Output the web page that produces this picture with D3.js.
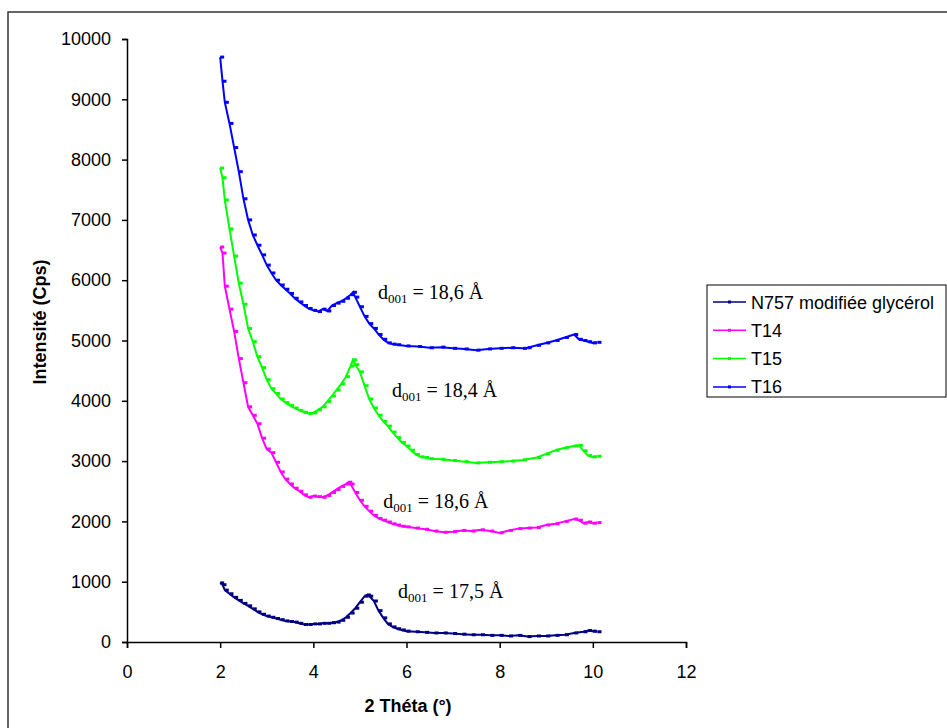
<!DOCTYPE html>
<html><head><meta charset="utf-8">
<script src="https://cdn.jsdelivr.net/npm/d3@7"></script>
<style>body{margin:0;background:#fff;}svg{display:block;}</style>
</head><body>
<script>
// ---- data ----
const xTicks = [0, 2, 4, 6, 8, 10, 12];
const yTicks = [0, 1000, 2000, 3000, 4000, 5000, 6000, 7000, 8000, 9000, 10000];
const seriesNames = ["N757 modifiée glycérol", "T14", "T15", "T16"];
const seriesColors = ["#000080", "#FF00FF", "#00FF00", "#0000FF"];

const n757X = [2.0,2.05,2.1,2.2,2.3,2.4,2.5,2.6,2.7,2.8,2.9,3.0,3.1,3.2,3.3,3.4,3.5,3.6,3.7,3.8,3.9,4.0,4.1,4.2,4.3,4.4,4.5,4.6,4.7,4.8,4.9,5.0,5.1,5.15,5.2,5.3,5.4,5.5,5.6,5.7,5.8,5.9,6.0,6.2,6.4,6.6,6.8,7.0,7.2,7.4,7.6,7.8,8.0,8.2,8.4,8.6,8.8,9.0,9.2,9.4,9.6,9.8,9.9,10.0,10.1];
const n757Y = [980,950,860,800,740,690,640,600,550,500,460,430,410,390,370,350,340,330,310,290,290,300,300,310,310,320,330,360,410,480,560,660,760,780,760,680,520,400,300,250,220,200,180,170,160,150,150,140,130,120,120,110,110,100,110,90,100,100,110,120,150,170,190,180,170];

const t14X = [2.0,2.05,2.1,2.2,2.3,2.4,2.5,2.6,2.7,2.8,2.9,3.0,3.1,3.2,3.3,3.4,3.5,3.6,3.7,3.8,3.9,4.0,4.1,4.2,4.3,4.4,4.5,4.6,4.7,4.75,4.8,4.9,5.0,5.1,5.2,5.3,5.4,5.5,5.6,5.7,5.8,5.9,6.0,6.2,6.4,6.6,6.8,7.0,7.2,7.4,7.6,7.8,8.0,8.2,8.4,8.6,8.8,9.0,9.2,9.4,9.6,9.7,9.8,9.9,10.0,10.1];
const t14Y = [6550,6450,5900,5520,5150,4700,4300,3900,3760,3620,3380,3200,3140,2980,2820,2700,2620,2550,2500,2440,2400,2420,2410,2400,2430,2480,2530,2580,2620,2650,2620,2480,2350,2250,2170,2100,2050,2020,1990,1960,1940,1920,1910,1890,1870,1840,1820,1830,1850,1840,1860,1840,1810,1850,1880,1890,1900,1940,1960,2000,2040,2020,1970,1990,1970,1980];

const t15X = [2.0,2.05,2.1,2.2,2.3,2.4,2.5,2.6,2.7,2.8,2.9,3.0,3.1,3.2,3.3,3.4,3.5,3.6,3.7,3.8,3.9,4.0,4.1,4.2,4.3,4.4,4.5,4.6,4.7,4.8,4.85,4.9,5.0,5.1,5.2,5.3,5.4,5.5,5.6,5.7,5.8,5.9,6.0,6.1,6.2,6.3,6.4,6.5,6.75,7.0,7.25,7.5,7.75,8.0,8.25,8.5,8.8,9.0,9.2,9.4,9.6,9.7,9.8,9.9,10.0,10.1];
const t15Y = [7860,7700,7330,6850,6400,5950,5600,5200,4980,4730,4550,4350,4200,4120,4030,3970,3920,3880,3840,3810,3790,3800,3850,3900,3990,4080,4180,4280,4400,4580,4680,4600,4480,4250,4030,3880,3760,3660,3580,3480,3390,3310,3250,3180,3110,3070,3060,3040,3030,3010,2990,2970,2980,2990,3000,3020,3060,3120,3180,3220,3250,3260,3170,3090,3070,3080];

const t16X = [2.0,2.05,2.1,2.2,2.3,2.4,2.5,2.6,2.7,2.8,2.9,3.0,3.1,3.2,3.3,3.4,3.5,3.6,3.7,3.8,3.9,4.0,4.1,4.2,4.3,4.4,4.5,4.6,4.7,4.8,4.85,4.9,5.0,5.1,5.2,5.3,5.4,5.5,5.6,5.7,5.8,6.0,6.25,6.5,6.75,7.0,7.25,7.5,7.75,8.0,8.25,8.5,8.6,8.8,9.0,9.2,9.4,9.6,9.7,9.8,9.9,10.0,10.1];
const t16Y = [9700,9300,8950,8600,8200,7800,7350,7000,6750,6580,6420,6250,6120,6000,5920,5850,5780,5700,5640,5580,5530,5500,5480,5520,5490,5580,5620,5650,5700,5760,5800,5720,5560,5400,5280,5200,5100,5020,4960,4940,4930,4910,4900,4880,4890,4870,4860,4840,4860,4870,4880,4870,4880,4920,4960,5000,5050,5100,5020,5000,4980,4960,4970];

const annoX = [5.39, 5.69, 5.5, 5.82];
const annoY = [5680, 4060, 2220, 730];
const annoSub = ["001", "001", "001", "001"];
const annoRest = [" = 18,6 Å", " = 18,4 Å", " = 18,6 Å", " = 17,5 Å"];

// ---- drawing ----
const W = 947, H = 728;
const FONT = "Liberation Sans, Arial, sans-serif";
const svg = d3.select("body").append("svg").attr("width", W).attr("height", H);
svg.append("rect").attr("width", W).attr("height", H).attr("fill", "#fff");
svg.append("rect").attr("x", 8).attr("y", 12).attr("width", 1000).attr("height", 800)
  .attr("fill", "none").attr("stroke", "#333").attr("stroke-width", 1.5);

const x = d3.scaleLinear().domain([0, 12]).range([127, 686]);
const y = d3.scaleLinear().domain([0, 10000]).range([642, 39]);

const yAxis = svg.append("g").attr("transform", "translate(127,0)")
  .call(d3.axisLeft(y).tickValues(yTicks).tickSize(5).tickPadding(11).tickFormat(d3.format("d")));
const xAxis = svg.append("g").attr("transform", "translate(0,642)")
  .call(d3.axisBottom(x).tickValues(xTicks).tickSize(6).tickPadding(17).tickFormat(d3.format("d")));
[yAxis, xAxis].forEach(a => {
  a.select(".domain").attr("stroke", "#000").attr("stroke-width", 1.5);
  a.selectAll(".tick line").attr("stroke", "#000").attr("stroke-width", 1.5);
  a.selectAll("text").attr("font-family", FONT).attr("font-size", 18).attr("fill", "#000");
});

svg.append("text").attr("x", 408).attr("y", 712).attr("text-anchor", "middle")
  .attr("font-family", FONT).attr("font-size", 18).attr("font-weight", "bold").text("2 Théta (°)");
svg.append("text").attr("transform", "translate(46,322) rotate(-90)").attr("text-anchor", "middle")
  .attr("font-family", FONT).attr("font-size", 18).attr("font-weight", "bold").text("Intensité (Cps)");

const series = [
  {xs: n757X, ys: n757Y},
  {xs: t14X, ys: t14Y},
  {xs: t15X, ys: t15Y},
  {xs: t16X, ys: t16Y}
];
const line = d3.line().x(d => x(d[0])).y(d => y(d[1]));
series.forEach((s, i) => {
  const pts = s.xs.map((v, k) => [v, s.ys[k]]);
  svg.append("path").datum(pts).attr("d", line).attr("fill", "none")
    .attr("stroke", seriesColors[i]).attr("stroke-width", 2).attr("stroke-linejoin", "miter");
  svg.append("g").selectAll("rect").data(pts).join("rect")
    .attr("x", d => x(d[0])).attr("y", d => y(d[1]) - 1.5)
    .attr("width", 4).attr("height", 3).attr("fill", seriesColors[i]);
});

// annotations
annoX.forEach((ax, i) => {
  const t = svg.append("text").attr("x", x(ax)).attr("y", y(annoY[i]))
    .attr("font-family", "Liberation Serif, Times New Roman, serif").attr("font-size", 20).attr("fill", "#000");
  t.append("tspan").text("d");
  t.append("tspan").attr("font-size", 13).attr("dy", 4).text(annoSub[i]);
  t.append("tspan").attr("dy", -4).text(annoRest[i]);
});

// legend
const lg = svg.append("g");
lg.append("rect").attr("x", 707).attr("y", 285).attr("width", 239).attr("height", 112)
  .attr("fill", "#fff").attr("stroke", "#000").attr("stroke-width", 1);
seriesNames.forEach((n, i) => {
  const cy = 302 + i * 28.3;
  lg.append("line").attr("x1", 713).attr("x2", 746).attr("y1", cy).attr("y2", cy)
    .attr("stroke", seriesColors[i]).attr("stroke-width", 1.5);
  lg.append("rect").attr("x", 728).attr("y", cy - 1.5).attr("width", 3).attr("height", 3).attr("fill", seriesColors[i]);
  lg.append("text").attr("x", 751).attr("y", cy + 6.5)
    .attr("font-family", FONT).attr("font-size", 18).attr("fill", "#000").text(n);
});
</script>
</body></html>
